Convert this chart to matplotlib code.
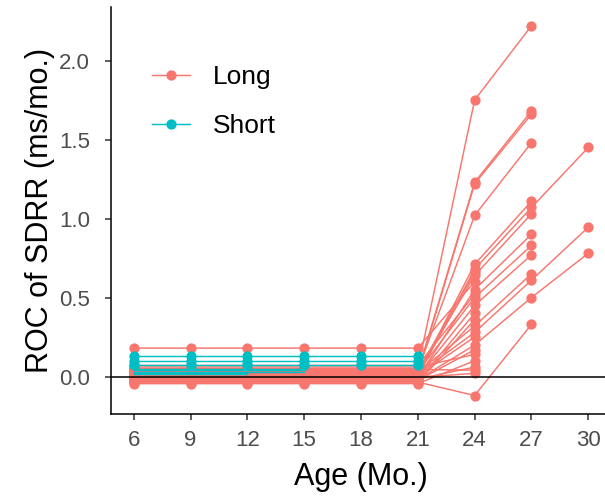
import numpy as np
import matplotlib
matplotlib.use("Agg")
import matplotlib.pyplot as plt
from matplotlib.lines import Line2D

plt.rcParams['font.family'] = ['Liberation Sans', 'DejaVu Sans']

# Ages (months) on the x axis
ages = [6, 9, 12, 15, 18, 21, 24, 27, 30]
early_ages = [6, 9, 12, 15, 18, 21]   # rate of change is flat over this span

# Long group: flat early rate (6-21 mo.), then 24, 27, 30 mo. values (nan = not observed)
long_early = [0.05, 0.03, 0.02, 0.04, 0.01, 0.00, 0.02, -0.01, 0.03, 0.00,
              0.025, 0.015, -0.02, -0.035, 0.18, 0.07, -0.03, -0.04, 0.005, -0.025,
              0.06, -0.045, -0.015, 0.045, -0.005, 0.035]
long_24 = [1.75, 1.23, 1.22, 1.02, 0.71, 0.68, 0.64, 0.55, 0.50, 0.45,
           0.32, 0.28, 0.20, -0.12, 0.60, 0.52, 0.40, 0.36, 0.25, 0.17,
           0.14, 0.10, 0.06, 0.04, 0.02, 0.66]
long_27 = [2.22, 1.68, 1.66, 1.48, 1.11, 1.07, 1.03, 0.90, 0.83, 0.77,
           0.65, 0.61, 0.50, 0.33, np.nan, np.nan, np.nan, np.nan, np.nan, np.nan,
           np.nan, np.nan, np.nan, np.nan, np.nan, np.nan]
long_30 = [np.nan, np.nan, np.nan, np.nan, np.nan, 1.45, np.nan, np.nan, np.nan, np.nan,
           np.nan, 0.945, 0.78, np.nan, np.nan, np.nan, np.nan, np.nan, np.nan, np.nan,
           np.nan, np.nan, np.nan, np.nan, np.nan, np.nan]

# Short group: flat rate of change, followed up to the given age
short_early = [0.128, 0.100, 0.073, 0.050, 0.040, 0.031, 0.022, 0.013]
short_last_age = [21, 21, 21, 15, 15, 15, 12, 12]

LONG_COL = '#F8766D'
SHORT_COL = '#00BFC4'

W, H = 605, 498
fig = plt.figure(figsize=(W / 100, H / 100), dpi=100)
ax = fig.add_axes([111 / W, 84 / H, 500 / W, 406.7 / H])

lw = 1.05
ms = 7.4

# Long trajectories
for i in range(len(long_early)):
    xs = np.array(list(early_ages) + [24, 27, 30], dtype=float)
    ys = np.array([long_early[i]] * len(early_ages)
                  + [long_24[i], long_27[i], long_30[i]], dtype=float)
    ok = ~np.isnan(ys)
    ax.plot(xs[ok], ys[ok], color=LONG_COL, lw=lw, zorder=2)
    ax.plot(xs[ok], ys[ok], 'o', color=LONG_COL, ms=ms, mec='none', zorder=3)

# Short trajectories: lines drawn over everything; points of the lower
# short series lie beneath the Long points
for v, last in zip(short_early, short_last_age):
    xs = [a for a in early_ages if a <= last]
    ys = [v] * len(xs)
    ax.plot(xs, ys, color=SHORT_COL, lw=lw, zorder=4)
    ax.plot(xs, ys, 'o', color=SHORT_COL, ms=ms, mec='none',
            zorder=3.5 if v > 0.06 else 2.5)

ax.axhline(0, color='black', lw=1.1, zorder=6)

ax.set_xlim(4.8, 31.2)
ax.set_ylim(-0.237, 2.337)
ax.set_xticks(ages)
ax.set_yticks([0.0, 0.5, 1.0, 1.5, 2.0])
ax.set_yticklabels(['0.0', '0.5', '1.0', '1.5', '2.0'])

for side in ('top', 'right'):
    ax.spines[side].set_visible(False)
for side in ('left', 'bottom'):
    ax.spines[side].set_color('black')
    ax.spines[side].set_linewidth(1.1)

ax.tick_params(axis='both', direction='out', length=4.5, width=1.1, color='#333333',
               labelcolor='#4D4D4D', labelsize=16)
ax.tick_params(axis='x', pad=7)
ax.tick_params(axis='y', pad=10.5)

ax.set_xlabel('Age (Mo.)', fontsize=22, color='black', labelpad=8)
ax.set_ylabel('ROC of SDRR (ms/mo.)', fontsize=22, color='black', labelpad=3)

handles = [Line2D([0], [0], color=LONG_COL, lw=lw, marker='o', ms=ms, mec='none'),
           Line2D([0], [0], color=SHORT_COL, lw=lw, marker='o', ms=ms, mec='none')]
leg = ax.legend(handles, ['Long', 'Short'], loc='upper left',
                bbox_to_anchor=(152 / W, 1 - 65 / H), bbox_transform=fig.transFigure,
                frameon=False, fontsize=19, handlelength=1.44, handletextpad=0.87,
                labelspacing=0.94, borderpad=0, borderaxespad=0)

fig.savefig('out.png', dpi=100)
